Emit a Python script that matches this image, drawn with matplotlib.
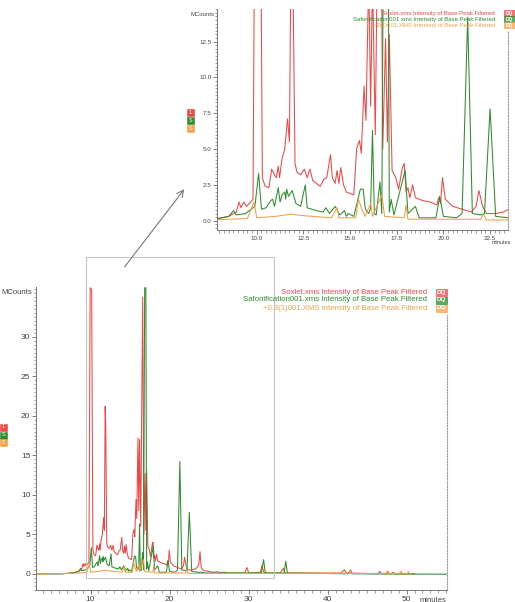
import matplotlib
matplotlib.use('Agg')
import matplotlib.pyplot as plt
from matplotlib.patches import Rectangle, FancyArrowPatch
from matplotlib.ticker import MultipleLocator, FixedLocator, FormatStrFormatter

plt.rcParams['font.family'] = ['Liberation Sans', 'DejaVu Sans']

# Soxlet trace (minutes, MCounts)
soxlet_t = [3.1, 6.0, 7.0, 7.9, 8.5, 8.9, 9.05, 9.15, 9.3, 9.45, 9.6, 9.8, 9.95, 10.14,
            10.3, 10.45, 10.65, 10.8, 10.95, 11.05, 11.15, 11.22, 11.35, 11.5, 11.65, 11.75,
            11.85, 11.92, 12.05, 12.15, 12.35, 12.55, 12.7, 12.85, 13.0, 13.2, 13.4, 13.6,
            13.75, 13.95, 14.05, 14.2, 14.3, 14.4, 14.5, 14.65, 14.8, 15.0, 15.2, 15.35,
            15.5, 15.6, 15.75, 15.85, 16.0, 16.1, 16.2, 16.35, 16.6, 16.75, 16.9, 17.0,
            17.1, 17.25, 17.45, 17.6, 17.8, 17.9, 18.0, 18.1, 18.2, 18.35, 18.5, 18.9,
            19.3, 19.65, 19.75, 19.85, 19.95, 20.1, 20.5, 21.0, 21.5, 21.75, 21.9, 22.1,
            22.3, 22.8, 23.2, 23.5, 23.7, 23.85, 24.0, 24.3, 25.0, 25.5, 26.0, 26.5, 27.0,
            27.5, 29.5, 29.8, 30.0, 31.5, 31.7, 31.9, 32.2, 34.0, 34.4, 34.6, 41.7, 42.1,
            42.4, 46.4, 46.6, 46.8, 47.4, 47.6, 47.8, 48.1, 48.3, 48.5, 51.0]
soxlet_v = [0.0, 0.0, 0.05, 0.15, 0.3, 0.6, 1.3, 0.9, 1.3, 1.0, 1.2, 1.5, 36.2, 36.0,
            3.0, 2.4, 2.3, 3.6, 3.2, 3.0, 3.8, 3.0, 4.3, 5.0, 7.1, 5.5,
            21.2, 19.0, 4.0, 3.4, 3.2, 3.6, 3.0, 3.6, 2.8, 2.6, 2.4, 2.9,
            3.0, 4.6, 3.0, 2.6, 3.5, 2.6, 3.7, 2.5, 2.0, 1.9, 1.8, 5.0,
            5.6, 4.7, 9.4, 7.0, 17.2, 8.0, 17.0, 6.0, 35.0, 5.0, 12.7, 5.5,
            13.0, 3.5, 3.0, 2.2, 3.7, 4.0, 2.0, 2.3, 1.6, 2.5, 1.6, 1.4,
            1.3, 1.1, 1.6, 1.2, 3.0, 1.5, 1.0, 0.8, 0.6, 1.0, 2.1, 1.0,
            0.5, 0.5, 0.6, 0.8, 1.2, 2.8, 0.8, 0.4, 0.3, 0.2, 0.25, 0.15, 0.2,
            0.1, 0.1, 0.8, 0.1, 0.2, 1.1, 0.2, 0.1, 0.1, 0.7, 0.1, 0.1, 0.5,
            0.1, 0.0, 0.3, 0.0, 0.0, 0.3, 0.0, 0.0, 0.2, 0.0, 0.0]

# Saponification trace
sapon_t = [3.1, 6.5, 7.5, 7.9, 8.5, 8.75, 8.9, 9.4, 9.7, 9.9, 10.1, 10.25, 10.5, 10.75,
           10.85, 10.95, 11.15, 11.25, 11.35, 11.5, 11.55, 11.6, 11.7, 11.9, 12.1, 12.35,
           12.6, 12.7, 13.2, 13.55, 13.7, 13.9, 14.2, 14.45, 14.7, 14.8, 14.9, 15.2, 15.55,
           15.7, 15.82, 16.0, 16.1, 16.2, 16.3, 16.4, 16.6, 16.7, 16.85, 17.0, 17.1, 17.2,
           17.35, 17.85, 17.95, 18.1, 18.5, 18.7, 19.6, 19.8, 20.0, 20.7, 21.0, 21.3, 21.55,
           22.0, 22.2, 22.5, 22.8, 23.5, 24.0, 24.5, 31.6, 31.9, 32.1, 34.5, 34.7, 34.9,
           42.6, 42.9, 43.1, 55.1]
sapon_v = [0.0, 0.0, 0.1, 0.15, 0.3, 0.7, 0.4, 0.5, 0.8, 1.0, 3.3, 0.8, 0.9, 1.4,
           1.5, 1.0, 2.3, 1.3, 1.8, 2.0, 1.5, 2.2, 1.7, 2.1, 1.2, 1.0,
           2.5, 0.9, 0.7, 0.6, 0.9, 0.5, 1.0, 0.4, 0.7, 0.3, 0.5, 0.3, 2.2,
           2.2, 0.8, 0.5, 0.9, 6.3, 0.5, 0.4, 2.7, 0.5, 36.2, 36.2, 0.6, 1.5,
           0.4, 3.0, 3.5, 0.5, 1.0, 0.2, 0.2, 1.7, 0.3, 0.2, 0.5, 14.2, 0.5,
           0.4, 0.5, 7.8, 0.3, 0.2, 0.2, 0.1, 0.1, 1.8, 0.1, 0.1, 1.6, 0.1,
           0.0, 0.5, 0.0, -0.05]

# +0.3(1)001 trace
blank_t = [3.1, 7.5, 8.5, 9.5, 9.85, 10.0, 11.0, 11.8, 12.5, 13.0, 14.0, 14.3, 14.4, 15.3,
           15.45, 15.6, 15.8, 16.1, 16.2, 16.7, 16.85, 17.9, 18.0, 18.1, 22.0, 22.15, 22.3,
           42.7, 42.9, 43.1, 47.4, 47.5, 47.6, 49.2, 49.3, 49.4, 50.1, 50.2, 50.3, 50.6]
blank_v = [0.0, 0.05, 0.1, 0.15, 1.3, 0.2, 0.3, 0.45, 0.35, 0.3, 0.2, 0.9, 0.2, 0.2,
           1.5, 0.9, 0.3, 1.2, 0.3, 1.8, 0.3, 0.2, 1.1, 0.1, 0.1, 0.5, 0.05,
           0.05, 0.4, 0.05, 0.05, 0.3, 0.05, 0.05, 0.35, 0.05, 0.05, 0.3, 0.05, 0.0]

names = ['Soxlet.xms Intensity of Base Peak Filtered',
         'Safonification001.xms Intensity of Base Peak Filtered',
         '+0.3(1)001.XMS Intensity of Base Peak Filtered']
colors = ['#ef4646', '#2e8b2e', '#f5a04a']
tags = ['1', 'S', 'S']

main_yticks = [0, 5, 10, 15, 20, 25, 30]

W, H = 515, 602
fig = plt.figure(figsize=(W / 100, H / 100), dpi=100)


def fx(px):
    return px / W


def fy(py):
    return 1 - py / H


def _style(ax, fs, maj_x, min_x, maj_y, min_y, fmt, rtop):
    """Axis look of the chromatogram window."""
    ax.spines['top'].set_visible(False)
    for s in ['left', 'bottom']:
        ax.spines[s].set_color('#777777')
        ax.spines[s].set_linewidth(0.7)
    ax.spines['right'].set_color('#999999')
    ax.spines['right'].set_linewidth(0.8)
    ax.spines['right'].set_linestyle((0, (1, 1.5)))
    ax.spines['right'].set_bounds(ax.get_ylim()[0], rtop)
    ax.xaxis.set_major_locator(MultipleLocator(maj_x))
    ax.xaxis.set_minor_locator(MultipleLocator(min_x))
    if isinstance(maj_y, list):
        ax.yaxis.set_major_locator(FixedLocator(maj_y))
    else:
        ax.yaxis.set_major_locator(MultipleLocator(maj_y))
    ax.yaxis.set_minor_locator(MultipleLocator(min_y))
    ax.xaxis.set_major_formatter(FormatStrFormatter(fmt))
    ax.yaxis.set_major_formatter(FormatStrFormatter(fmt))
    ax.tick_params(which='major', direction='out', length=3, width=0.6,
                   color='#666666', labelsize=fs, labelcolor='#444444', pad=1)
    ax.tick_params(which='minor', direction='out', length=1.8, width=0.5, color='#777777')


def _traces(ax):
    ax.plot(soxlet_t, soxlet_v, color=colors[0], lw=0.75)
    ax.plot(sapon_t, sapon_v, color=colors[1], lw=0.75)
    ax.plot(blank_t, blank_v, color=colors[2], lw=0.75)


def _legend(right_px, top_px, step, fs, box_w, box_h):
    for i, (name, c) in enumerate(zip(names, colors)):
        y = top_px + i * step
        fig.text(fx(right_px), fy(y), name, color=c, fontsize=fs, ha='right', va='center')
        fig.add_artist(Rectangle((fx(right_px + 9), fy(y + box_h / 2)), box_w / W, box_h / H,
                                 transform=fig.transFigure, fc=c, ec=c, lw=0.6, alpha=0.75))
        fig.text(fx(right_px + 9 + box_w / 2), fy(y), 'DQ', color='white', fontsize=fs * 0.8,
                 ha='center', va='center', fontweight='bold')


def _tags(left_px, top_px, step, w):
    for i, (t, c) in enumerate(zip(tags, colors)):
        y = top_px + i * step
        fig.add_artist(Rectangle((fx(left_px), fy(y + step)), w / W, (step - 0.8) / H,
                                 transform=fig.transFigure, fc=c, ec=c, lw=0.4))
        fig.text(fx(left_px + w / 2), fy(y + step / 2), t, color='white', fontsize=4,
                 ha='center', va='center')


# main chromatogram
ax = fig.add_axes([fx(36), fy(590), fx(447 - 36), (590 - 287) / H])
ax.set_xlim(3.1, 55.1)
ax.set_ylim(-2.05, 36.3)
_traces(ax)
_style(ax, 6, 10, 1, main_yticks, 0.5, '%g', 32.8)
ax.text(-0.01, 0.983, 'MCounts', transform=ax.transAxes, ha='right', va='center',
        fontsize=5.5, color='#444444')
fig.text(fx(433), fy(600), 'minutes', fontsize=5.5, color='#444444', ha='center', va='center')
_legend(427, 292, 8, 5.6, 11, 7)
_tags(0, 423, 7.8, 7)

# zoomed inset
ins = fig.add_axes([fx(217), fy(230), fx(508 - 217), (230 - 9) / H])
ins.set_xlim(7.87, 23.46)
ins.set_ylim(-0.65, 14.77)
_traces(ins)
_style(ins, 4.5, 2.5, 0.25, 2.5, 0.25, '%.1f', 13.3)
ins.text(-0.01, 0.975, 'MCounts', transform=ins.transAxes, ha='right', va='center',
         fontsize=4.3, color='#444444')
fig.text(fx(501), fy(243), 'minutes', fontsize=4, color='#444444', ha='center', va='center')
_legend(495, 13, 6, 4.3, 11, 5.5)
_tags(187, 108, 8, 7)

# zoom window and arrow
fig.add_artist(Rectangle((fx(86), fy(578)), (274 - 86) / W, (578 - 256.7) / H,
                         transform=fig.transFigure, fill=False, ec='#c4c4c4', lw=0.8))
fig.add_artist(FancyArrowPatch((fx(123), fy(269)), (fx(186), fy(187)),
                               transform=fig.transFigure, arrowstyle='->',
                               mutation_scale=12, color='#777777', lw=0.8))

fig.savefig('out.png', dpi=100)
